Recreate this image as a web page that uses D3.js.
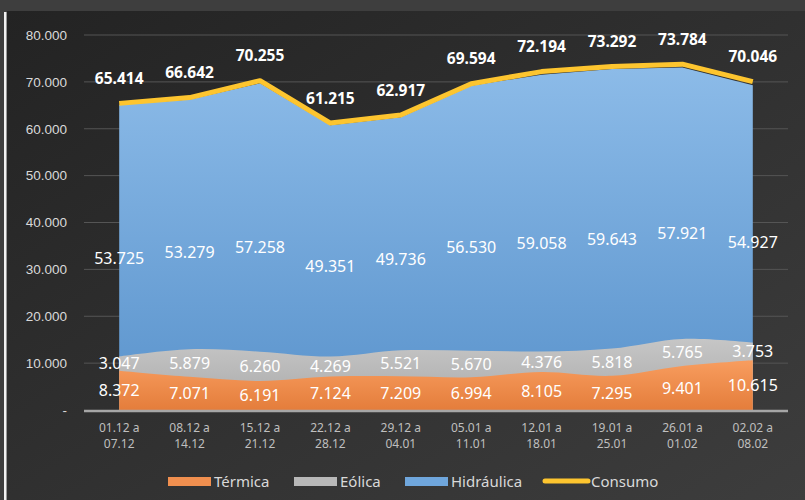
<!DOCTYPE html>
<html>
<head>
<meta charset="utf-8">
<script src="https://cdn.jsdelivr.net/npm/d3@7"></script>
<style>
  html, body { margin: 0; padding: 0; background: #3c3c3c; }
  svg { display: block; font-family: "Noto Sans", "Open Sans", sans-serif; }
</style>
</head>
<body>
<div id="chart"></div>
<script>
const weeks = [["01.12 a", "07.12"], ["08.12 a", "14.12"], ["15.12 a", "21.12"], ["22.12 a", "28.12"],
  ["29.12 a", "04.01"], ["05.01 a", "11.01"], ["12.01 a", "18.01"], ["19.01 a", "25.01"],
  ["26.01 a", "01.02"], ["02.02 a", "08.02"]];
const termica = [8372, 7071, 6191, 7124, 7209, 6994, 8105, 7295, 9401, 10615];
const eolica = [3047, 5879, 6260, 4269, 5521, 5670, 4376, 5818, 5765, 3753];
const hidraulica = [53725, 53279, 57258, 49351, 49736, 56530, 59058, 59643, 57921, 54927];
const consumo = [65414, 66642, 70255, 61215, 62917, 69594, 72194, 73292, 73784, 70046];
const yTicks = [0, 10000, 20000, 30000, 40000, 50000, 60000, 70000, 80000];

function init() {
    const width = 805;
    const height = 500;
    const margin = { top: 35, right: 17, bottom: 90, left: 84 };

    const locale = d3.formatLocale({ decimal: ",", thousands: ".", grouping: [3], currency: ["", ""] });
    const fmt = locale.format(",d");

    const svg = d3.select("#chart")
        .append("svg")
        .attr("width", width)
        .attr("height", height);

    // background
    const defs = svg.append("defs");
    const bg = defs.append("linearGradient").attr("id", "bg")
        .attr("x1", "0").attr("y1", "0").attr("x2", "1").attr("y2", "1");
    bg.append("stop").attr("offset", "0%").attr("stop-color", "#232323");
    bg.append("stop").attr("offset", "100%").attr("stop-color", "#3d3d3d");

    function vGrad(id, top, bottom) {
        const g = defs.append("linearGradient").attr("id", id)
            .attr("x1", "0").attr("y1", "0").attr("x2", "0").attr("y2", "1");
        g.append("stop").attr("offset", "0%").attr("stop-color", top);
        g.append("stop").attr("offset", "100%").attr("stop-color", bottom);
    }
    vGrad("gT", "#f89d5f", "#e47d3b");
    vGrad("gE", "#c6c6c6", "#a9a9a9");
    vGrad("gH", "#8cbbe8", "#5a93cc");

    svg.append("rect").attr("width", width).attr("height", height).attr("fill", "#3e3e3e");
    svg.append("rect").attr("x", 7).attr("y", 11).attr("width", width - 7).attr("height", height - 11)
        .attr("fill", "url(#bg)");
    svg.append("rect").attr("x", 4).attr("y", 12).attr("width", 2.5).attr("height", height - 12)
        .attr("fill", "#f2f2f2");

    // scales
    const x = d3.scaleBand().domain(d3.range(weeks.length))
        .range([margin.left, width - margin.right]);
    const cx = i => x(i) + x.bandwidth() / 2;
    const y = d3.scaleLinear().domain([0, 80000]).range([height - margin.bottom, margin.top]);

    // gridlines
    svg.append("g")
        .selectAll("line")
        .data(yTicks.slice(1))
        .enter()
        .append("line")
        .attr("x1", margin.left).attr("x2", width - margin.right)
        .attr("y1", d => y(d)).attr("y2", d => y(d))
        .attr("stroke", "#555").attr("stroke-width", 1);

    // y axis labels
    const yAxis = svg.append("g")
        .attr("transform", `translate(${margin.left - 17},0)`)
        .call(d3.axisLeft(y).tickValues(yTicks).tickSize(0).tickPadding(0)
            .tickFormat(d => d === 0 ? "-" : fmt(d)));
    yAxis.select(".domain").remove();
    yAxis.selectAll("text").attr("fill", "#d9d9d9").style("font-size", "13.5px");

    // stacked areas
    const rows = weeks.map((w, i) => ({ i, t: termica[i], e: eolica[i], h: hidraulica[i] }));
    const stack = d3.stack().keys(["t", "e", "h"])(rows);
    const fills = { t: "url(#gT)", e: "url(#gE)", h: "url(#gH)" };
    const curves = { t: d3.curveCatmullRom, e: d3.curveCatmullRom, h: d3.curveLinear };

    // each layer drawn from zero up to its stacked top, top layer first
    svg.append("g")
        .selectAll("path")
        .data(stack.slice().reverse())
        .enter()
        .append("path")
        .attr("d", layer => d3.area()
            .x(d => cx(d.data.i))
            .y0(y(0))
            .y1(d => y(d[1]))
            .curve(curves[layer.key])(layer))
        .attr("fill", d => fills[d.key]);

    // base axis line
    svg.append("line")
        .attr("x1", margin.left).attr("x2", width - margin.right)
        .attr("y1", y(0) + 1).attr("y2", y(0) + 1)
        .attr("stroke", "#a6a6a6").attr("stroke-width", 2.5);

    // consumo line
    const line = d3.line().x((d, i) => cx(i)).y(d => y(d));
    svg.append("path")
        .attr("d", line(consumo))
        .attr("fill", "none")
        .attr("stroke", "#fdc52f")
        .attr("stroke-width", 5)
        .attr("stroke-linejoin", "round");

    // data labels
    const labels = svg.append("g").attr("text-anchor", "middle").attr("fill", "#ffffff");
    const layerPos = { t: 0.5, e: 0.5, h: 0.39 };
    stack.forEach(layer => {
        labels.selectAll(null)
            .data(layer)
            .enter()
            .append("text")
            .attr("x", d => cx(d.data.i))
            .attr("y", d => y(d[0] + (d[1] - d[0]) * layerPos[layer.key]))
            .attr("dy", "0.36em")
            .style("font-size", "16px")
            .text(d => fmt(d[1] - d[0]));
    });
    labels.selectAll(null)
        .data(consumo)
        .enter()
        .append("text")
        .attr("x", (d, i) => cx(i))
        .attr("y", d => y(d) - 25)
        .attr("dy", "0.36em")
        .style("font-size", "15.5px")
        .style("font-weight", "bold")
        .text(d => fmt(d));

    // x labels
    const xl = svg.append("g").attr("text-anchor", "middle").attr("fill", "#bfbfbf")
        .style("font-size", "12px");
    weeks.forEach((w, i) => {
        w.forEach((s, j) => {
            xl.append("text")
                .attr("x", cx(i))
                .attr("y", 432 + j * 16)
                .text(s);
        });
    });

    // legend
    const legendItems = [
        { name: "Térmica", color: "#f08f4f", x: 168 },
        { name: "Eólica", color: "#b8b8b8", x: 294 },
        { name: "Hidráulica", color: "#6fa6dc", x: 405 }
    ];
    const legend = svg.append("g").style("font-size", "15px").attr("fill", "#d9d9d9");
    legendItems.forEach(d => {
        legend.append("rect")
            .attr("x", d.x).attr("y", 477).attr("width", 43).attr("height", 9)
            .attr("fill", d.color);
        legend.append("text")
            .attr("x", d.x + 46).attr("y", 487)
            .text(d.name);
    });
    legend.append("line")
        .attr("x1", 545).attr("x2", 588).attr("y1", 481).attr("y2", 481)
        .attr("stroke", "#fdc52f").attr("stroke-width", 5).attr("stroke-linecap", "round");
    legend.append("text").attr("x", 591).attr("y", 487).text("Consumo");
}

window.onload = init;
</script>
</body>
</html>
